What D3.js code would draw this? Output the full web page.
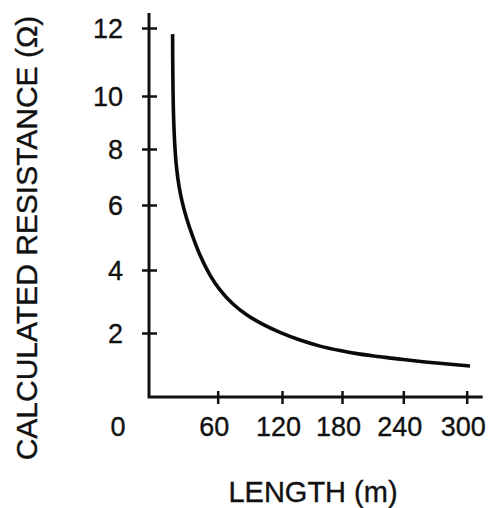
<!DOCTYPE html>
<html>
<head>
<meta charset="utf-8">
<script src="https://cdn.jsdelivr.net/npm/d3@7"></script>
<style>
  html, body { margin: 0; padding: 0; background: #fff; }
  svg { display: block; }
  text { font-family: "Liberation Sans", Arial, Helvetica, sans-serif; fill: #111; stroke: #111; stroke-width: 0.35px; }
</style>
</head>
<body>
<div id="chart"></div>
<script>
// values
var lengthM = [20.61, 20.79, 21.31, 22.53, 24.10, 26.20, 28.82, 32.75, 37.99, 44.54, 53.27, 62.15, 74.28, 87.34, 101.34, 118.13, 138, 158, 178, 197.62, 217.19, 240.0, 271.61, 303.12];
var resistance = [11.82, 10.76, 9.47, 8.15, 7.32, 6.68, 6.14, 5.60, 5.05, 4.46, 3.84, 3.37, 2.92, 2.57, 2.29, 2.02, 1.78, 1.59, 1.45, 1.34, 1.26, 1.17, 1.06, 0.97];

var xTicks = [0, 60, 120, 180, 240, 300];
var yTicks = [0, 2, 4, 6, 8, 10, 12];

var width = 492, height = 508;

var svg = d3.select("#chart").append("svg")
    .attr("width", width)
    .attr("height", height);

// hand drawn axes: tick spacing is not quite even
var x = d3.scaleLinear().domain(xTicks).range([149, 217.7, 282, 342, 403.3, 466.7]);
var y = d3.scaleLinear().domain(yTicks).range([397, 333, 270, 205, 149, 96, 28]);

var points = lengthM.map(function(d, i) { return {len: d, r: resistance[i]}; });

// y axis
var yAxis = svg.append("g")
    .attr("transform", "translate(" + x(0) + ",0)")
    .call(d3.axisLeft(y).tickValues(yTicks.slice(1)).tickSize(0).tickPadding(26));
yAxis.select(".domain").remove();
yAxis.selectAll(".tick line")
    .attr("x1", -7).attr("x2", 8)
    .attr("stroke", "#111").attr("stroke-width", 2.5);
yAxis.selectAll(".tick text")
    .attr("font-size", 27).attr("dy", "0.36em")
    .attr("font-family", "Liberation Sans, Arial, sans-serif")
    .style("fill", "#111");

// x axis
var xAxis = svg.append("g")
    .attr("transform", "translate(0," + y(0) + ")")
    .call(d3.axisBottom(x).tickValues(xTicks.slice(1)).tickSize(0).tickPadding(20));
xAxis.select(".domain").remove();
xAxis.selectAll(".tick line")
    .attr("y1", -6).attr("y2", 7)
    .attr("stroke", "#111").attr("stroke-width", 2.5);
xAxis.selectAll(".tick text")
    .attr("font-size", 27).attr("dx", -4).attr("dy", "0.71em")
    .attr("font-family", "Liberation Sans, Arial, sans-serif")
    .style("fill", "#111");

// axis lines
svg.append("path")
    .attr("d", "M" + x(0) + "," + (y(12) - 15) + "V" + y(0) + "H" + (x(300) + 16))
    .attr("fill", "none")
    .attr("stroke", "#111")
    .attr("stroke-width", 3);

// shared origin label
svg.append("text")
    .attr("x", x(0) - 31)
    .attr("y", y(0) + 39)
    .attr("text-anchor", "middle")
    .attr("font-size", 27)
    .text("0");

// the curve
var line = d3.line()
    .x(function(d) { return x(d.len); })
    .y(function(d) { return y(d.r); })
    .curve(d3.curveCatmullRom.alpha(0.5));

svg.append("path")
    .datum(points)
    .attr("d", line)
    .attr("fill", "none")
    .attr("stroke", "#0a0a0a")
    .attr("stroke-width", 3.6)
    .attr("stroke-linecap", "butt");

// axis titles
svg.append("text")
    .attr("transform", "translate(37,238) rotate(-90)")
    .attr("text-anchor", "middle")
    .attr("font-size", 30)
    .text("CALCULATED RESISTANCE (\u03A9)");

svg.append("text")
    .attr("x", 313)
    .attr("y", 502)
    .attr("text-anchor", "middle")
    .attr("font-size", 29)
    .text("LENGTH (m)");
</script>
</body>
</html>
